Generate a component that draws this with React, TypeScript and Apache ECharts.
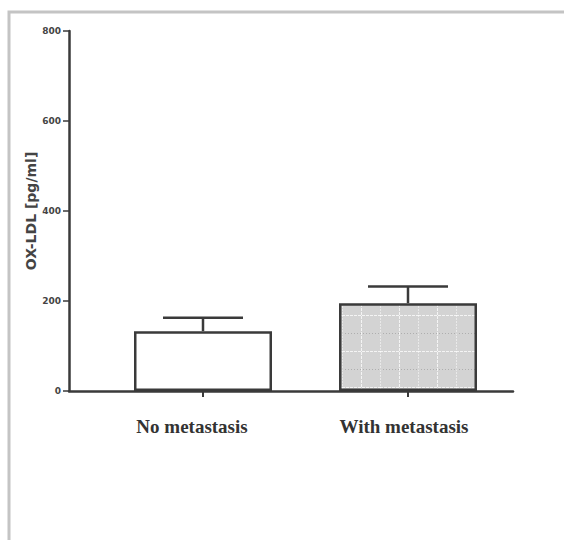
import React, { useEffect, useRef } from "react";
import * as echarts from "echarts";

const categories = ["No metastasis", "With metastasis"];
const meanValues = [133, 195];
const errorValues = [30, 37];
const yTicks = { min: 0, max: 800, interval: 200 };
const yAxisName = "OX-LDL [pg/ml]";

function makePattern(): HTMLCanvasElement {
  const c = document.createElement("canvas");
  c.width = 38;
  c.height = 36;
  const ctx = c.getContext("2d")!;
  ctx.fillStyle = "#d3d3d3";
  ctx.fillRect(0, 0, 38, 36);
  ctx.lineWidth = 1;
  ctx.strokeStyle = "rgba(255,255,255,0.75)";
  ctx.setLineDash([3, 1]);
  ctx.beginPath();
  ctx.moveTo(0, 27.5);
  ctx.lineTo(38, 27.5);
  ctx.moveTo(19.5, 0);
  ctx.lineTo(19.5, 36);
  ctx.stroke();
  ctx.strokeStyle = "rgba(150,150,150,0.6)";
  ctx.setLineDash([1, 2]);
  ctx.beginPath();
  ctx.moveTo(0, 9.5);
  ctx.lineTo(38, 9.5);
  ctx.stroke();
  ctx.strokeStyle = "rgba(255,255,255,0.5)";
  ctx.setLineDash([2, 1]);
  ctx.beginPath();
  ctx.moveTo(0.5, 0);
  ctx.lineTo(0.5, 36);
  ctx.stroke();
  return c;
}

export default function App() {
  const ref = useRef<HTMLDivElement>(null);
  useEffect(() => {
    if (!ref.current) return;
    const chart = echarts.init(ref.current, undefined, { renderer: "svg" });
    const axisColor = "#3a3a3a";
    const pattern = makePattern();
    const labelShift = [22, 8];
    const option: any = {
      animation: false,
      backgroundColor: "#ffffff",
      graphic: [
        {
          type: "rect",
          shape: { x: 9, y: 12, width: 700, height: 700 },
          style: { fill: "none", stroke: "#c4c4c4", lineWidth: 3 },
          silent: true,
        },
      ],
      grid: [
        { left: 69, right: 51, top: 31, bottom: 149 },
        { left: 100.5, right: 53.5, top: 31, bottom: 149 },
      ],
      xAxis: [
        {
          type: "value",
          gridIndex: 0,
          min: 0,
          max: 1,
          z: 5,
          axisLine: { show: true, onZero: false, lineStyle: { color: axisColor, width: 2.5 } },
          axisTick: { show: false },
          axisLabel: { show: false },
          splitLine: { show: false },
        },
        {
          type: "category",
          gridIndex: 1,
          data: categories.map((c, i) => ({
            value: c,
            textStyle: { padding: [0, labelShift[i], 0, 0] },
          })),
          axisLine: { show: false },
          axisTick: {
            show: true,
            alignWithLabel: true,
            length: 6,
            lineStyle: { color: axisColor, width: 2 },
          },
          axisLabel: {
            margin: 26,
            color: "#333333",
            fontFamily: "Liberation Serif",
            fontWeight: "bold",
            fontSize: 19,
          },
        },
      ],
      yAxis: [
        {
          type: "value",
          gridIndex: 0,
          min: yTicks.min,
          max: yTicks.max,
          interval: yTicks.interval,
          name: yAxisName,
          nameLocation: "middle",
          nameGap: 31,
          nameMoveOverlap: false,
          nameTextStyle: {
            color: "#444444",
            fontFamily: "DejaVu Sans",
            fontWeight: "bold",
            fontSize: 14,
          },
          axisLine: { show: true, lineStyle: { color: axisColor, width: 2.5 } },
          axisTick: { show: true, length: 6, lineStyle: { color: axisColor, width: 1.5 } },
          axisLabel: {
            margin: 8,
            color: "#444444",
            fontFamily: "DejaVu Sans",
            fontWeight: "bold",
            fontSize: 9,
          },
          splitLine: { show: false },
        },
        {
          type: "value",
          gridIndex: 1,
          min: yTicks.min,
          max: yTicks.max,
          interval: yTicks.interval,
          show: false,
          splitLine: { show: false },
        },
      ],
      series: [
        {
          type: "custom",
          xAxisIndex: 1,
          yAxisIndex: 1,
          z: 1,
          data: categories.map((_, i) => [i, meanValues[i], meanValues[i] + errorValues[i]]),
          renderItem: (params: any, api: any) => {
            const base = api.coord([api.value(0), api.value(1)]);
            const top = api.coord([api.value(0), api.value(2)]);
            const half = 40;
            const style = { stroke: axisColor, lineWidth: 2.5, fill: "none" };
            return {
              type: "group",
              children: [
                { type: "line", shape: { x1: base[0], y1: base[1], x2: top[0], y2: top[1] }, style },
                { type: "line", shape: { x1: top[0] - half, y1: top[1], x2: top[0] + half, y2: top[1] }, style },
              ],
            };
          },
        },
        {
          type: "bar",
          xAxisIndex: 1,
          yAxisIndex: 1,
          z: 2,
          barWidth: 138,
          data: meanValues.map((v, i) => ({
            value: v,
            itemStyle: {
              color: i === 0 ? "#ffffff" : { image: pattern, repeat: "repeat" },
              borderColor: axisColor,
              borderWidth: 2.5,
            },
          })),
        },
      ],
    };
    chart.setOption(option);
    return () => chart.dispose();
  }, []);
  return (
    <div
      ref={ref}
      style={{ position: "fixed", left: 0, top: 0, width: 564, height: 540 }}
    />
  );
}
